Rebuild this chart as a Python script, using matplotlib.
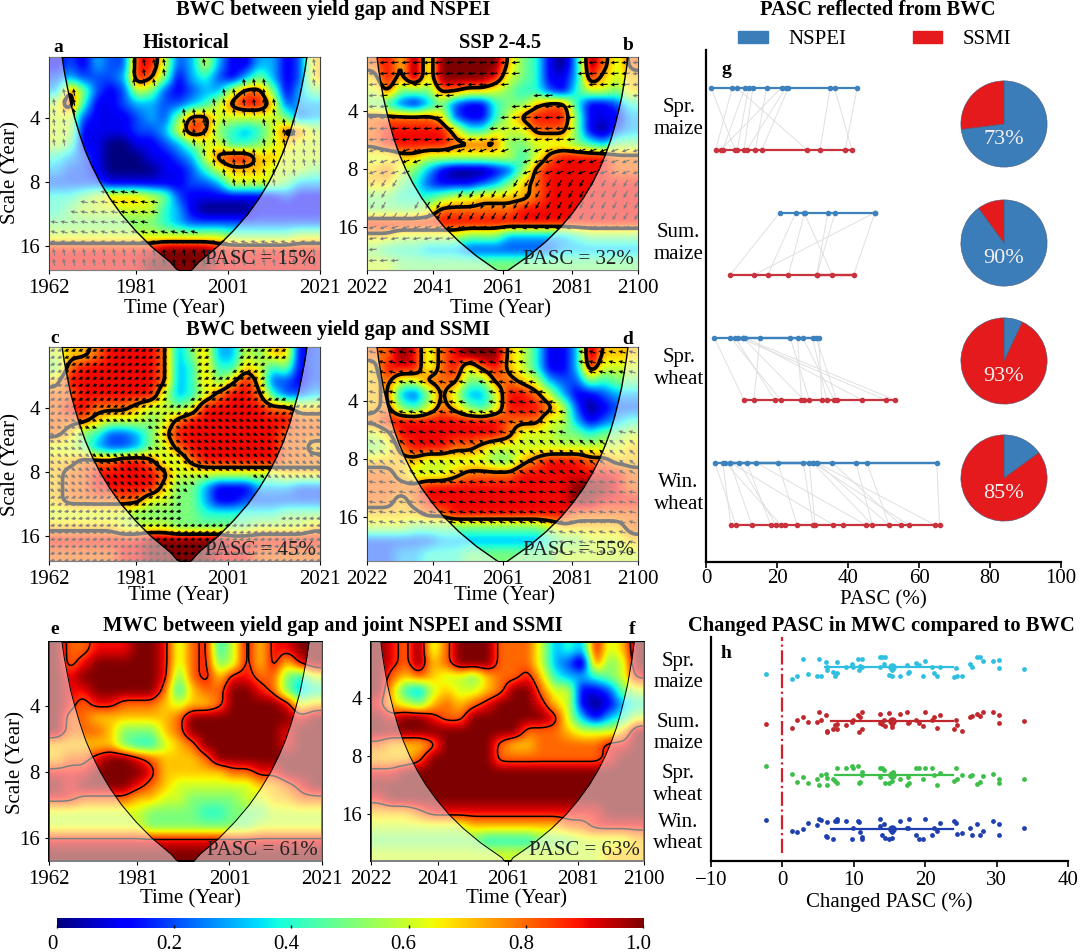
import numpy as np
import matplotlib
matplotlib.use('Agg')
import matplotlib.pyplot as plt
from matplotlib.patches import Patch
from matplotlib.transforms import ScaledTranslation

plt.rcParams['font.family'] = ['Liberation Serif', 'DejaVu Serif']

# coherence, tenths, 16 rows (small scale first) x 20 columns
grid_a = [
    [1,2,1,3,2,2,9,9,6,2,3,6,3,1,1,3,3,1,2,7],
    [2,3,2,2,2,3,9,8,5,1,3,4,2,1,3,5,3,1,2,7],
    [3,8,5,2,1,2,6,5,2,1,2,3,3,6,8,8,5,1,3,5],
    [6,9,4,1,1,2,3,3,2,2,3,4,6,8,9,9,7,2,3,3],
    [6,6,2,1,1,1,2,3,2,5,8,8,6,6,6,6,6,5,2,3],
    [6,6,1,1,1,1,2,2,3,6,9,8,5,4,3,4,6,8,8,6],
    [6,5,1,1,0,0,1,1,2,3,5,6,6,4,4,5,6,7,6,6],
    [4,3,2,1,0,0,0,1,1,2,3,6,8,9,9,7,7,6,6,6],
    [3,2,2,1,0,0,0,0,1,1,2,4,6,7,7,7,6,6,6,5],
    [2,2,2,2,1,1,1,1,1,1,2,2,3,6,6,6,6,5,3,3],
    [4,4,5,6,7,7,7,6,5,2,1,1,1,1,1,1,1,2,1,1],
    [4,5,6,6,6,6,6,6,4,3,1,0,0,0,0,1,1,1,1,1],
    [5,5,5,5,5,5,5,5,4,3,2,2,2,2,2,2,2,2,2,2],
    [6,6,6,6,6,6,6,6,6,6,6,6,6,5,5,5,5,5,6,6],
    [9,9,9,9,9,9,9,9,10,10,10,10,9,9,9,9,9,9,9,9],
    [9,9,9,9,9,9,9,10,10,10,10,10,9,9,9,9,9,9,9,9],
]
grid_b = [
    [8,9,7,10,6,10,10,10,10,10,7,5,4,1,0,3,10,8,6,8],
    [7,9,7,10,6,10,10,10,10,9,6,5,4,1,1,3,9,7,6,7],
    [6,8,5,5,5,8,8,7,7,6,5,4,4,2,1,4,6,6,5,7],
    [5,4,2,1,3,5,2,1,1,4,5,5,7,8,8,4,1,1,2,4],
    [8,8,8,8,8,7,2,1,1,4,6,8,9,9,9,5,1,1,1,3],
    [8,9,9,9,9,9,7,4,4,6,6,6,8,8,8,5,1,0,2,3],
    [8,9,9,9,9,9,8,8,8,8,5,5,6,6,6,5,4,3,5,5],
    [6,6,7,7,6,6,6,6,6,6,6,4,6,8,9,9,9,9,8,8],
    [7,8,6,5,3,1,0,0,0,1,2,5,8,9,9,9,9,9,8,8],
    [7,7,5,4,2,1,1,1,2,3,5,7,8,9,9,9,9,9,9,9],
    [5,5,4,4,4,5,6,6,7,7,7,7,8,9,9,9,9,9,9,9],
    [5,5,5,5,6,8,8,8,8,8,8,9,9,9,9,9,9,9,9,9],
    [9,9,9,9,9,9,9,9,9,9,9,9,9,9,9,9,9,9,9,9],
    [7,7,6,6,6,6,6,5,5,5,3,3,3,3,3,4,5,5,5,5],
    [5,4,4,4,3,3,3,2,2,2,2,2,2,2,3,3,3,3,3,3],
    [6,6,5,5,5,5,5,5,5,5,5,5,5,5,5,5,5,5,5,5],
]
grid_c = [
    [6,7,7,8,9,9,9,9,8,3,5,7,3,3,6,5,7,7,1,2],
    [5,8,9,9,9,9,9,9,8,3,4,7,4,4,7,6,4,5,1,2],
    [7,9,9,9,9,9,9,9,8,3,4,7,5,7,9,7,2,2,1,2],
    [8,8,9,9,9,9,9,9,6,3,4,6,8,9,9,8,4,2,2,3],
    [8,9,9,8,8,8,7,6,6,5,6,9,9,9,9,9,8,8,7,7],
    [8,8,8,7,6,6,6,5,6,8,9,9,9,9,9,9,9,9,8,8],
    [8,7,5,4,2,2,3,5,7,9,9,9,9,9,9,9,9,8,8,8],
    [6,6,5,3,2,2,3,5,6,8,9,9,9,9,9,9,9,8,8,7],
    [7,7,8,8,8,9,9,8,6,6,8,9,9,9,9,9,9,8,8,8],
    [7,8,8,9,9,9,9,9,8,6,6,6,6,6,6,6,6,7,7,7],
    [7,8,8,9,9,9,9,9,7,5,5,3,1,1,1,3,3,3,2,2],
    [7,8,8,8,8,8,8,6,6,5,5,3,1,1,2,2,2,2,2,2],
    [6,6,6,6,6,6,5,5,5,5,5,4,4,4,4,4,4,5,5,5],
    [7,7,7,7,7,6,6,6,6,5,5,5,5,5,5,6,6,6,6,7],
    [9,9,9,9,9,9,9,10,10,10,10,10,10,9,9,9,9,9,9,9],
    [8,8,8,8,8,9,9,10,10,10,10,10,9,9,9,8,8,8,8,8],
]
grid_d = [
    [8,8,10,9,6,8,9,10,10,10,7,6,4,1,1,3,10,7,7,7],
    [7,9,9,9,6,8,9,6,8,9,7,6,4,1,1,3,9,6,6,6],
    [7,8,6,6,8,8,8,5,5,8,8,7,6,3,2,2,5,4,5,5],
    [7,8,3,2,5,8,6,3,3,6,9,9,8,6,3,1,1,2,3,3],
    [7,8,5,4,6,8,7,5,4,6,9,9,9,8,6,2,0,1,2,2],
    [8,9,9,9,9,9,9,9,9,9,8,8,8,6,6,3,1,2,3,4],
    [6,7,9,9,9,9,9,9,9,9,8,6,6,6,5,5,4,5,5,6],
    [5,6,8,9,9,9,8,8,7,6,6,6,6,6,6,6,6,6,6,7],
    [7,7,7,7,6,6,6,6,6,5,5,7,8,9,9,9,8,8,7,7],
    [8,8,7,6,6,6,7,8,8,8,8,9,9,9,9,9,9,9,9,8],
    [8,8,8,8,9,9,9,9,9,9,9,9,9,9,9,10,10,10,9,8],
    [8,8,7,8,9,9,9,9,9,9,9,9,9,9,9,10,10,9,9,9],
    [7,7,7,7,8,8,9,9,9,9,9,9,9,9,9,8,8,8,8,8],
    [6,6,6,5,5,5,5,5,5,5,5,5,5,6,7,7,7,7,7,8],
    [2,2,2,2,2,3,3,3,3,3,3,3,3,4,5,5,6,6,6,7],
    [2,2,3,3,4,4,4,5,5,5,5,5,5,5,6,6,6,6,6,6],
]
grid_e = [
    [10,8,8,9,9,9,10,10,9,6,8,9,4,6,9,7,9,9,10,10],
    [10,8,9,10,10,10,10,10,9,6,8,9,5,6,9,7,9,7,9,10],
    [10,9,10,10,10,10,10,10,9,5,8,9,7,9,9,8,8,5,4,6],
    [10,9,9,10,10,10,10,10,8,4,7,8,8,10,10,9,8,5,3,4],
    [10,9,8,9,9,8,8,8,7,6,7,7,8,10,10,10,10,9,6,7],
    [10,8,8,7,7,7,7,7,7,8,10,10,10,10,10,10,10,10,9,10],
    [10,8,8,8,7,5,5,5,7,8,10,10,10,10,10,10,10,9,10,10],
    [7,7,7,7,7,5,4,4,6,7,8,10,10,10,10,10,10,9,10,10],
    [7,8,8,9,10,10,9,8,7,7,7,8,10,10,10,10,10,10,10,10],
    [9,9,9,10,10,10,10,9,7,7,7,7,7,8,8,9,9,10,10,10],
    [10,9,10,10,10,10,9,8,7,6,6,6,6,6,6,7,7,8,9,10],
    [9,9,8,8,8,8,7,7,6,6,5,5,5,5,6,6,7,7,8,8],
    [6,6,6,6,6,6,6,5,5,5,5,4,4,5,5,5,6,6,6,6],
    [6,6,6,6,6,6,6,5,5,5,5,5,5,5,5,6,6,6,6,6],
    [9,9,9,9,9,9,9,9,9,9,9,9,9,9,9,9,9,9,9,9],
    [10,10,10,10,10,10,10,10,10,10,10,10,10,10,10,10,10,10,10,10],
]
grid_f = [
    [10,9,8,10,6,8,10,10,10,8,8,8,6,3,4,3,9,6,7,10],
    [10,9,8,10,7,8,10,10,10,8,8,8,6,3,2,0,8,5,6,10],
    [10,8,7,8,7,6,6,5,7,8,8,9,7,4,3,3,4,5,6,9],
    [10,7,4,3,6,7,6,6,7,8,10,10,8,6,6,1,1,2,5,6],
    [9,7,6,5,7,8,7,8,9,10,10,10,9,7,6,1,0,1,3,4],
    [10,9,10,10,9,8,8,10,10,10,10,10,10,9,6,3,1,3,4,6],
    [10,10,10,10,10,10,10,10,10,10,10,8,8,8,7,6,6,6,7,10],
    [8,7,7,7,8,10,10,10,10,8,7,7,8,8,8,8,8,9,9,10],
    [7,7,7,8,10,10,10,10,10,8,8,8,8,8,8,8,8,9,10,10],
    [9,9,10,10,10,10,10,10,10,10,10,10,10,10,10,10,10,10,10,10],
    [10,10,10,10,10,10,10,10,10,10,10,10,10,10,10,10,10,10,10,10],
    [9,10,10,10,10,10,10,10,10,10,10,10,10,10,10,10,10,10,10,10],
    [7,7,7,8,9,9,9,9,9,9,9,9,9,9,9,9,9,10,10,10],
    [6,6,6,6,6,6,6,7,7,7,7,7,7,7,8,8,9,9,9,9],
    [5,5,5,5,5,5,5,5,4,4,4,4,5,5,5,6,6,6,6,7],
    [6,6,6,6,6,6,6,6,6,6,6,6,6,6,6,6,6,7,7,7],
]

# phase arrow direction per row of the grid, degrees on screen
angle_a = [100,100,100,100,100,100,100,100,100,100,170,170,170,165,100,100]
angle_b = [185,185,185,185,185,185,185,200,200,240,240,240,200,190,185,185]
angle_c = [200,200,200,200,200,340,340,340,320,320,320,200,190,190,190,190]
angle_d = [165,165,165,165,165,165,165,140,140,150,170,170,170,165,165,165]

# cone of influence: scale (year) and reach from each record end (year)
coi_scale = [1.9,2.4,2.8,3.4,4,4.8,5.7,6.7,8,9.5,11.3,13.5,16,19,22.6,27,30]
coi_reach = [2.6,3.3,3.9,4.7,5.6,6.7,7.9,9.3,11.1,13.2,15.7,18.8,22.2,26.4,31.4,37.5,41.7]

hist_years = [1962, 1981, 2001, 2021]
fut_years = [2022, 2041, 2061, 2081, 2100]
pasc_heat = [15, 32, 45, 55, 61, 63]

crops = ['Spr.\nmaize', 'Sum.\nmaize', 'Spr.\nwheat', 'Win.\nwheat']

# panel g, PASC of each run
nspei_vals = [
    [1.4,7.4,8.6,11,12,13.2,17.1,21.3,22.5,23.2,35,36.2,42.6],
    [20.8,25.3,27.6,27.8,34.3,36.4,47.6,47.6],
    [2.3,6.9,8.2,9.1,10.3,11,15.2,23.7,25.8,27.2,30,31,31.8,10.3],
    [2.5,4.7,5.4,6.8,9.3,11.5,14.1,20.2,27.4,29.1,30,31.2,35.5,42.2,45.3,65,6.8,30,31.2],
]
ssmi_vals = [
    [2.7,4.1,4.7,8.2,8.8,10.7,11.5,13.9,15.7,28.5,32.1,39.2,41.1],
    [6.8,13.5,17.4,23.2,31.2,35.6,41.6,31.2],
    [10.7,13.5,19.4,21,26.9,27.6,29.1,32.6,34,36.1,36.8,43.9,50.7,53.3],
    [7,8.4,12.9,18.2,19.7,21.1,22.3,25.7,30.2,30.7,35.9,38.7,45,46.9,51.6,54.9,57.1,64.5,65.8],
]
# which SSMI value each NSPEI value is tied to
links = [
    [3,0,9,2,4,5,7,1,6,8,10,12,11],
    [0,2,5,3,4,7,1,6],
    [0,3,2,12,5,11,1,6,4,9,8,10,7,13],
    [1,0,5,10,4,3,12,7,8,9,13,14,15,13,14,18,2,16,17],
]
share_nspei = [73, 90, 7, 15]
share_labels = ['73%', '90%', '93%', '85%']

# panel h, shared run values and vertical spread per crop
swarm_x = [-2.3,1.4,2.0,2.9,3.6,4.8,5.4,5.1,6.1,6.2,6.3,7.1,7.4,7.7,7.7,8.9,9.7,9.9,10.6,11.1,
           10.7,10.9,11.2,13.6,13.7,14.0,14.4,14.2,14.9,15.3,15.3,15.5,16.5,17.5,17.8,17.6,18.7,
           19.1,19.7,20.0,20.9,21.2,21.6,22.1,24.0,24.4,24.3,25.2,26.3,26.5,27.3,27.7,28.1,29.5,
           30.3,30.3,33.8]
spread_1 = [-.12,-.22,-.17,.16,-.12,-.17,-.16,.15,.10,0,-.05,-.08,-.17,.10,-.10,.01,.06,0,.15,.15,
            -.05,.03,.01,0,.19,.19,.19,.06,-.14,-.05,-.16,.01,-.16,.04,-.08,-.11,.07,.05,-.16,.12,
            .01,-.10,-.16,0,-.19,-.17,-.02,-.17,.06,0,.19,.19,.12,.12,.14,-.02,-.04]
spread_2 = [-.06,-.12,.03,.08,-.02,-.01,.02,.17,.12,-.20,-.18,-.14,-.07,-.15,-.06,-.07,-.01,.02,.11,.17,
            -.20,.08,-.14,.14,-.04,-.06,-.09,.02,.15,-.06,-.10,.02,.13,.17,-.01,-.03,.02,-.03,-.09,.17,
            .03,.07,-.12,.11,-.14,-.07,.03,-.18,.08,.09,.14,.09,.17,.17,.11,-.03,0]
spread_3 = [.17,.02,-.12,-.04,-.14,-.08,0,-.19,.02,-.19,-.05,-.08,-.10,-.14,.13,.13,.17,.13,.17,.05,
            -.14,-.12,.01,.13,-.03,.14,-.15,.10,-.15,-.10,.01,.05,-.07,-.18,-.15,-.03,.13,.13,-.08,.13,
            .13,0,-.19,.04,-.10,-.08,.13,0,-.02,0,-.17,-.12,-.02,.02,-.08,-.14,-.08]
spread_4 = [.17,-.03,-.06,0,.11,.07,.17,.19,-.12,-.14,.13,-.18,.15,.18,.15,.15,-.18,.02,.15,-.18,
            .13,-.05,-.14,.18,.05,-.11,-.16,.10,-.18,-.16,-.05,0,.15,.03,.18,.02,-.10,-.18,-.19,.18,
            -.11,.03,-.03,.12,.15,-.09,.12,-.08,.03,-.11,.10,-.11,-.03,.16,.10,-.11,.03]
swarm_spread = [spread_1, spread_2, spread_3, spread_4]
box_low = [6.0, 6.8, 7.4, 6.8]
box_high = [23.9, 23.9, 23.9, 23.9]
box_mid = [15.4, 15.4, 15.4, 15.4]
swarm_colors = ['#2fbfe0', '#c0272d', '#3dbf4a', '#1f3fb0']
h_label_y = [2.91, 1.78, 0.83, -0.07]

W, H = 1080, 952
fig = plt.figure(figsize=(W / 100, H / 100), dpi=100)


def ax_px(x0, y0, x1, y1):
    # axes from pixel box, y measured from the top like the picture
    return fig.add_axes([x0 / W, 1 - y1 / H, (x1 - x0) / W, (y1 - y0) / H])


def fig_text(x, y, s, **kw):
    fig.text(x / W, 1 - y / H, s, ha=kw.pop('ha', 'center'), va='center', **kw)


def refine(grid):
    # finer copy of the read grid so image and contours stay smooth
    g = np.pad(np.array(grid, dtype=float) / 10, 1, mode='edge')
    ny, nx = g.shape
    xi = np.linspace(0, nx - 1, (nx - 1) * 8 + 1)
    yi = np.linspace(0, ny - 1, (ny - 1) * 8 + 1)
    rows = np.array([np.interp(xi, np.arange(nx), r) for r in g])
    out = np.array([np.interp(yi, np.arange(ny), c) for c in rows.T]).T
    k = np.ones(5) / 5
    for _ in range(2):
        out = np.pad(out, 2, mode='edge')
        out = np.apply_along_axis(lambda r: np.convolve(r, k, mode='valid'), 1, out)
        out = np.apply_along_axis(lambda c: np.convolve(c, k, mode='valid'), 0, out)
    return out


def heat_panel(box, grid, years, ytop, ybot, pasc, angles=None, step=10, lw=2.6, level=0.75, coi_lw=1):
    ax = ax_px(*box)
    t0, t1 = years[0], years[-1]
    y0, y1 = np.log2(ytop), np.log2(ybot)
    ny, nx = np.array(grid).shape
    dx = (t1 - t0) / nx
    dy = (y1 - y0) / ny
    z = refine(grid)
    xs = np.linspace(t0 - dx / 2, t1 + dx / 2, z.shape[1])
    ys = np.linspace(y0 - dy / 2, y1 + dy / 2, z.shape[0])
    ax.imshow(z, cmap='jet', vmin=0, vmax=1, aspect='auto', origin='upper',
              extent=(xs[0], xs[-1], ys[-1], ys[0]), interpolation='bilinear')
    ax.contour(xs, ys, z, levels=[level], colors='k', linewidths=lw)

    if angles is not None:
        wpx, hpx = box[2] - box[0], box[3] - box[1]
        qx = np.arange(step / 2, wpx, step)
        qy = np.arange(step / 2, hpx, step)
        QX, QY, U, V = [], [], [], []
        for py in qy:
            row = min(int(py / hpx * ny), ny - 1)
            for px in qx:
                tx = t0 + px / wpx * (t1 - t0)
                ty = y0 + py / hpx * (y1 - y0)
                ix = np.searchsorted(xs, tx)
                iy = np.searchsorted(ys, ty)
                if z[iy, ix] >= 0.5:
                    a = np.deg2rad(angles[row])
                    QX.append(tx)
                    QY.append(ty)
                    U.append(np.cos(a) * step * 0.75)
                    V.append(np.sin(a) * step * 0.75)
        ax.quiver(QX, QY, U, V, units='dots', angles='uv', scale_units='dots', scale=1,
                  width=1.1, headwidth=3.6, headlength=3.8, headaxislength=3.4,
                  pivot='mid', color='k', zorder=3)

    # shaded area outside the cone
    cy = np.log2(coi_scale)
    reach = np.minimum(coi_reach, (t1 - t0) / 2)
    ax.fill_betweenx(cy, t0, t0 + reach, color='w', alpha=0.5, lw=0, zorder=4)
    ax.fill_betweenx(cy, t1 - reach, t1, color='w', alpha=0.5, lw=0, zorder=4)
    ax.plot(t0 + reach, cy, color='k', lw=coi_lw, zorder=5)
    ax.plot(t1 - reach, cy, color='k', lw=coi_lw, zorder=5)

    ax.set_xlim(t0, t1)
    ax.set_ylim(y1, y0)
    ax.set_xticks(years)
    ax.set_yticks([2, 3, 4])
    ax.set_yticklabels(['4', '8', '16'])
    ax.tick_params(labelsize=15, length=3, width=0.8, pad=3.5)
    ax.text(0.985, 0.048, 'PASC = %d%%' % pasc, transform=ax.transAxes, ha='right',
            va='center', fontsize=15, color='#222222', zorder=6)
    return ax


heat_panel((49, 57, 320, 270), grid_a, hist_years, 2.07, 20.7, pasc_heat[0], angle_a, 10)
heat_panel((367, 57, 638, 270), grid_b, fut_years, 2.1, 26.8, pasc_heat[1], angle_b, 11)
heat_panel((49, 347, 320, 561), grid_c, hist_years, 2.07, 20.9, pasc_heat[2], angle_c, 7)
heat_panel((367, 347, 638, 561), grid_d, fut_years, 2.1, 27.0, pasc_heat[3], angle_d, 10)
ax_e = heat_panel((49, 642, 322, 861), grid_e, hist_years, 2.03, 20.4, pasc_heat[4], lw=1.1, level=0.85, coi_lw=0.7)
ax_f = heat_panel((371, 642, 644, 861), grid_f, fut_years, 2.04, 28.0, pasc_heat[5], lw=1.1, level=0.85, coi_lw=0.7)
for ax in (ax_e, ax_f):
    for s in ax.spines.values():
        s.set_linewidth(1.4)

# colour bar
cax = ax_px(57, 918, 643, 928)
cax.imshow(np.linspace(0, 1, 256)[None, :], cmap='jet', aspect='auto', extent=(0, 1, 0, 1))
cax.set_yticks([])
cax.set_xticks([0, 0.2, 0.4, 0.6, 0.8, 1.0])
cax.set_xticklabels(['0', '0.2', '0.4', '0.6', '0.8', '1.0'])
cax.tick_params(labelsize=15, direction='in', length=2, width=1, pad=5)
shift = ScaledTranslation(-5 / 100, 0, fig.dpi_scale_trans)
for lab in cax.get_xticklabels():
    lab.set_transform(lab.get_transform() + shift)
for s in cax.spines.values():
    s.set_visible(False)

# panel g
ax_g = ax_px(706, 50, 1061, 562)
blue_g, red_g = '#3d82bd', '#c8333d'
for i in range(4):
    y = 3 - i
    xa, xb = nspei_vals[i], ssmi_vals[i]
    for a, j in zip(xa, links[i]):
        ax_g.plot([a, xb[j]], [y + 0.5, y], color='#e0e0e0', lw=0.7, zorder=1)
    ax_g.plot(xa, [y + 0.5] * len(xa), '-o', color=blue_g, lw=1.6, ms=3, zorder=2)
    ax_g.plot(xb, [y] * len(xb), '-o', color=red_g, lw=1.6, ms=3, zorder=2)
    ax_g.text(-0.077, y + 0.25, crops[i], transform=ax_g.get_yaxis_transform(), ha='center',
              va='center', fontsize=15, linespacing=1.2)
ax_g.set_xlim(0, 100)
ax_g.set_ylim(-0.296, 3.8)
ax_g.set_yticks([])
ax_g.set_xticks([0, 20, 40, 60, 80, 100])
ax_g.tick_params(labelsize=15, length=4, width=1.2, pad=1)
ax_g.spines['top'].set_visible(False)
ax_g.spines['right'].set_visible(False)
ax_g.spines['left'].set_linewidth(1.6)
ax_g.spines['bottom'].set_linewidth(1.6)
ax_g.set_xlabel('PASC (%)', fontsize=15, labelpad=2)

pie_centres = [(1004, 124), (1004, 243), (1004, 361), (1004, 478)]
for (cx, cy), val, lab in zip(pie_centres, share_nspei, share_labels):
    pax = ax_px(cx - 44, cy - 44, cx + 44, cy + 44)
    pax.pie([val, 100 - val], colors=['#3b7db8', '#e41a1c'], startangle=90, counterclock=False,
            radius=0.98, wedgeprops=dict(edgecolor='#4a5a7a', linewidth=0.4))
    pax.set_xlim(-1, 1)
    pax.set_ylim(-1, 1)
    pax.text(0, -0.36, lab, color='#f4f0f0', ha='center', va='center', fontsize=16)

# panel h
ax_h = ax_px(711, 637, 1068, 861)
for i in range(4):
    y = 3 - i
    off = np.array(swarm_spread[i])
    ax_h.scatter(swarm_x, y + off, s=12, color=swarm_colors[i], lw=0, zorder=2)
    ax_h.plot([box_low[i], box_high[i]], [y, y], color=swarm_colors[i], lw=1.6, zorder=3)
    ax_h.scatter([box_mid[i]], [y], s=38, color=swarm_colors[i], lw=0, zorder=3)
    ax_h.text(-0.092, h_label_y[i], crops[i], transform=ax_h.get_yaxis_transform(), ha='center',
              va='center', fontsize=15, linespacing=1.2)
ax_h.axvline(0, ymin=0.035, color='#d4202a', lw=1.6, ls='-.')
ax_h.set_xlim(-10, 40)
ax_h.set_ylim(-0.59, 3.56)
ax_h.set_yticks([])
ax_h.set_xticks([-10, 0, 10, 20, 30, 40])
ax_h.tick_params(labelsize=15, length=4, width=1.2, pad=3)
ax_h.spines['top'].set_visible(False)
ax_h.spines['right'].set_visible(False)
ax_h.spines['left'].set_linewidth(1.6)
ax_h.spines['bottom'].set_linewidth(1.6)
ax_h.set_xlabel('Changed PASC (%)', fontsize=15, labelpad=2)

# titles and small texts
bold = dict(fontweight='bold', fontsize=14.8)
fig_text(333, 10, 'BWC between yield gap and NSPEI', **bold)
fig_text(186, 43, 'Historical', **bold)
fig_text(500, 43, 'SSP 2-4.5', **bold)
fig_text(338, 330, 'BWC between yield gap and SSMI', **bold)
fig_text(333, 626, 'MWC between yield gap and joint NSPEI and SSMI', **bold)
fig_text(878, 10, 'PASC reflected from BWC', **bold)
fig_text(881, 626, 'Changed PASC in MWC compared to BWC', **bold)

for x, y, s in [(58, 47, 'a'), (628, 46, 'b'), (55, 338, 'c'), (628, 339, 'd'),
                (55, 630, 'e'), (632, 630, 'f'), (726, 70, 'g'), (726, 653, 'h')]:
    fig_text(x, y, s, fontweight='bold', fontsize=14)

for x, y in [(175, 309), (500, 309), (178, 596), (505, 596), (190, 899), (516, 899)]:
    fig_text(x, y, 'Time (Year)', fontsize=15)
for x, y in [(11, 173), (11, 465), (16, 762)]:
    fig_text(x, y, 'Scale (Year)', fontsize=15, rotation=90)

fig.legend(handles=[Patch(color='#3b7db8', label='NSPEI'), Patch(color='#e41a1c', label='SSMI')],
           loc='center', bbox_to_anchor=(875 / W, 1 - 40 / H), ncol=2, frameon=False, fontsize=15,
           handlelength=1.4, handleheight=0.5, handletextpad=1.0, columnspacing=3.2)

fig.savefig('out.png', dpi=100)
